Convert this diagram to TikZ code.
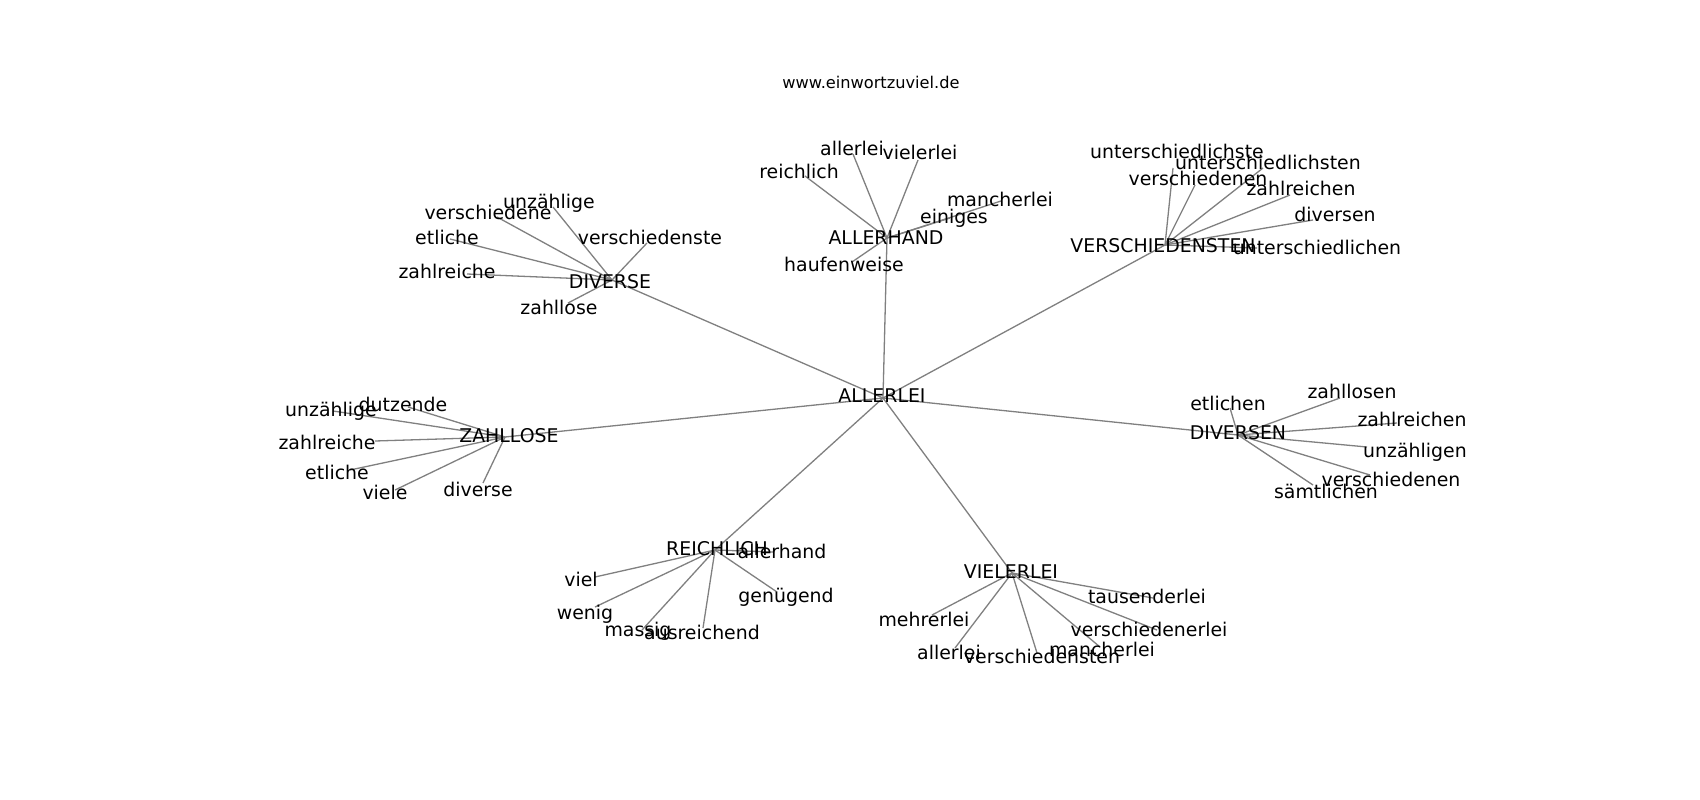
\documentclass[tikz,border=0pt]{standalone}
\usepackage{fontspec}
\setmainfont{DejaVu Sans}
\begin{document}
\begin{tikzpicture}[x=1pt,y=-1pt,
  lbl/.style={inner sep=0pt,text height=0.73em,text depth=0pt,anchor=center,yshift=-3pt,
    font=\fontsize{18.9}{22}\selectfont},
  ttl/.style={inner sep=0pt,text height=0.73em,text depth=0pt,anchor=center,yshift=-2.5pt,
    font=\fontsize{16.2}{19}\selectfont},
  edge/.style={draw=gray,line width=1.3pt}]
\useasboundingbox[fill=white] (0,0) rectangle (1700,800);
% graph positions
\coordinate (pc) at (883,398);
\coordinate (pd) at (612,280);
\coordinate (pd1) at (553,207);
\coordinate (pd2) at (497,217);
\coordinate (pd3) at (450,239);
\coordinate (pd4) at (467,274);
\coordinate (pd5) at (647,243);
\coordinate (pd6) at (568,303);
\coordinate (pa) at (887,238);
\coordinate (pa1) at (853,154);
\coordinate (pa2) at (918,160);
\coordinate (pa3) at (805,176);
\coordinate (pa4) at (1001,201);
\coordinate (pa5) at (950,218);
\coordinate (pa6) at (852,262);
\coordinate (pv) at (1165,245);
\coordinate (pv1) at (1173,168);
\coordinate (pv2) at (1263,168);
\coordinate (pv3) at (1195,185);
\coordinate (pv4) at (1290,195);
\coordinate (pv5) at (1313,220);
\coordinate (pv6) at (1257,248);
\coordinate (pz) at (505,437);
\coordinate (pz1) at (333,411);
\coordinate (pz2) at (408,407);
\coordinate (pz3) at (375,441);
\coordinate (pz4) at (350,470);
\coordinate (pz5) at (395,490);
\coordinate (pz6) at (483,483);
\coordinate (pn) at (1238,435);
\coordinate (pn1) at (1230,408);
\coordinate (pn2) at (1340,398);
\coordinate (pn3) at (1397,423);
\coordinate (pn4) at (1367,447);
\coordinate (pn5) at (1370,475);
\coordinate (pn6) at (1313,485);
\coordinate (pr) at (715,550);
\coordinate (pr1) at (773,552);
\coordinate (pr2) at (595,577);
\coordinate (pr3) at (777,592);
\coordinate (pr4) at (595,607);
\coordinate (pr5) at (642,630);
\coordinate (pr6) at (703,628);
\coordinate (pl) at (1012,573);
\coordinate (pl1) at (1153,598);
\coordinate (pl2) at (932,615);
\coordinate (pl3) at (1157,630);
\coordinate (pl4) at (955,648);
\coordinate (pl5) at (1037,653);
\coordinate (pl6) at (1100,647);
% edges
\foreach \h in {d,a,v,z,n,r,l}{\draw[edge] (pc) -- (p\h);}
\foreach \h in {d,a,v,z,n,r,l}{
  \foreach \i in {1,...,6}{\draw[edge] (p\h) -- (p\h\i);}}
% labels
\node[ttl] (title) at (871,82) {www.einwortzuviel.de};
\node[lbl] (tc) at (882,396) {ALLERLEI};
\node[lbl] (td) at (610,282) {DIVERSE};
\node[lbl] (td1) at (549,202) {unzählige};
\node[lbl] (td2) at (488,213) {verschiedene};
\node[lbl] (td3) at (447,238) {etliche};
\node[lbl] (td4) at (447,272) {zahlreiche};
\node[lbl] (td5) at (650,238) {verschiedenste};
\node[lbl] (td6) at (559,308) {zahllose};
\node[lbl] (ta) at (886,238) {ALLERHAND};
\node[lbl] (ta1) at (852,149) {allerlei};
\node[lbl] (ta2) at (920,153) {vielerlei};
\node[lbl] (ta3) at (799,172) {reichlich};
\node[lbl] (ta4) at (1000,200) {mancherlei};
\node[lbl] (ta5) at (954,217) {einiges};
\node[lbl] (ta6) at (844,265) {haufenweise};
\node[lbl] (tv) at (1163,246) {VERSCHIEDENSTEN};
\node[lbl] (tv1) at (1177,152) {unterschiedlichste};
\node[lbl] (tv2) at (1268,163) {unterschiedlichsten};
\node[lbl] (tv3) at (1198,179) {verschiedenen};
\node[lbl] (tv4) at (1301,189) {zahlreichen};
\node[lbl] (tv5) at (1335,215) {diversen};
\node[lbl] (tv6) at (1317,248) {unterschiedlichen};
\node[lbl] (tz) at (509,436) {ZAHLLOSE};
\node[lbl] (tz1) at (331,410) {unzählige};
\node[lbl] (tz2) at (403,405) {dutzende};
\node[lbl] (tz3) at (327,443) {zahlreiche};
\node[lbl] (tz4) at (337,473) {etliche};
\node[lbl] (tz5) at (385,493) {viele};
\node[lbl] (tz6) at (478,490) {diverse};
\node[lbl] (tn) at (1238,433) {DIVERSEN};
\node[lbl] (tn1) at (1228,404) {etlichen};
\node[lbl] (tn2) at (1352,392) {zahllosen};
\node[lbl] (tn3) at (1412,420) {zahlreichen};
\node[lbl] (tn4) at (1415,451) {unzähligen};
\node[lbl] (tn5) at (1391,480) {verschiedenen};
\node[lbl] (tn6) at (1326,492) {sämtlichen};
\node[lbl] (tr) at (717,549) {REICHLICH};
\node[lbl] (tr1) at (782,552) {allerhand};
\node[lbl] (tr2) at (581,580) {viel};
\node[lbl] (tr3) at (786,596) {genügend};
\node[lbl] (tr4) at (585,613) {wenig};
\node[lbl] (tr5) at (638,630) {massig};
\node[lbl] (tr6) at (702,633) {ausreichend};
\node[lbl] (tl) at (1011,572) {VIELERLEI};
\node[lbl] (tl1) at (1147,597) {tausenderlei};
\node[lbl] (tl2) at (924,620) {mehrerlei};
\node[lbl] (tl3) at (1149,630) {verschiedenerlei};
\node[lbl] (tl4) at (949,653) {allerlei};
\node[lbl] (tl5) at (1042,657) {verschiedensten};
\node[lbl] (tl6) at (1102,650) {mancherlei};
\end{tikzpicture}
\end{document}
